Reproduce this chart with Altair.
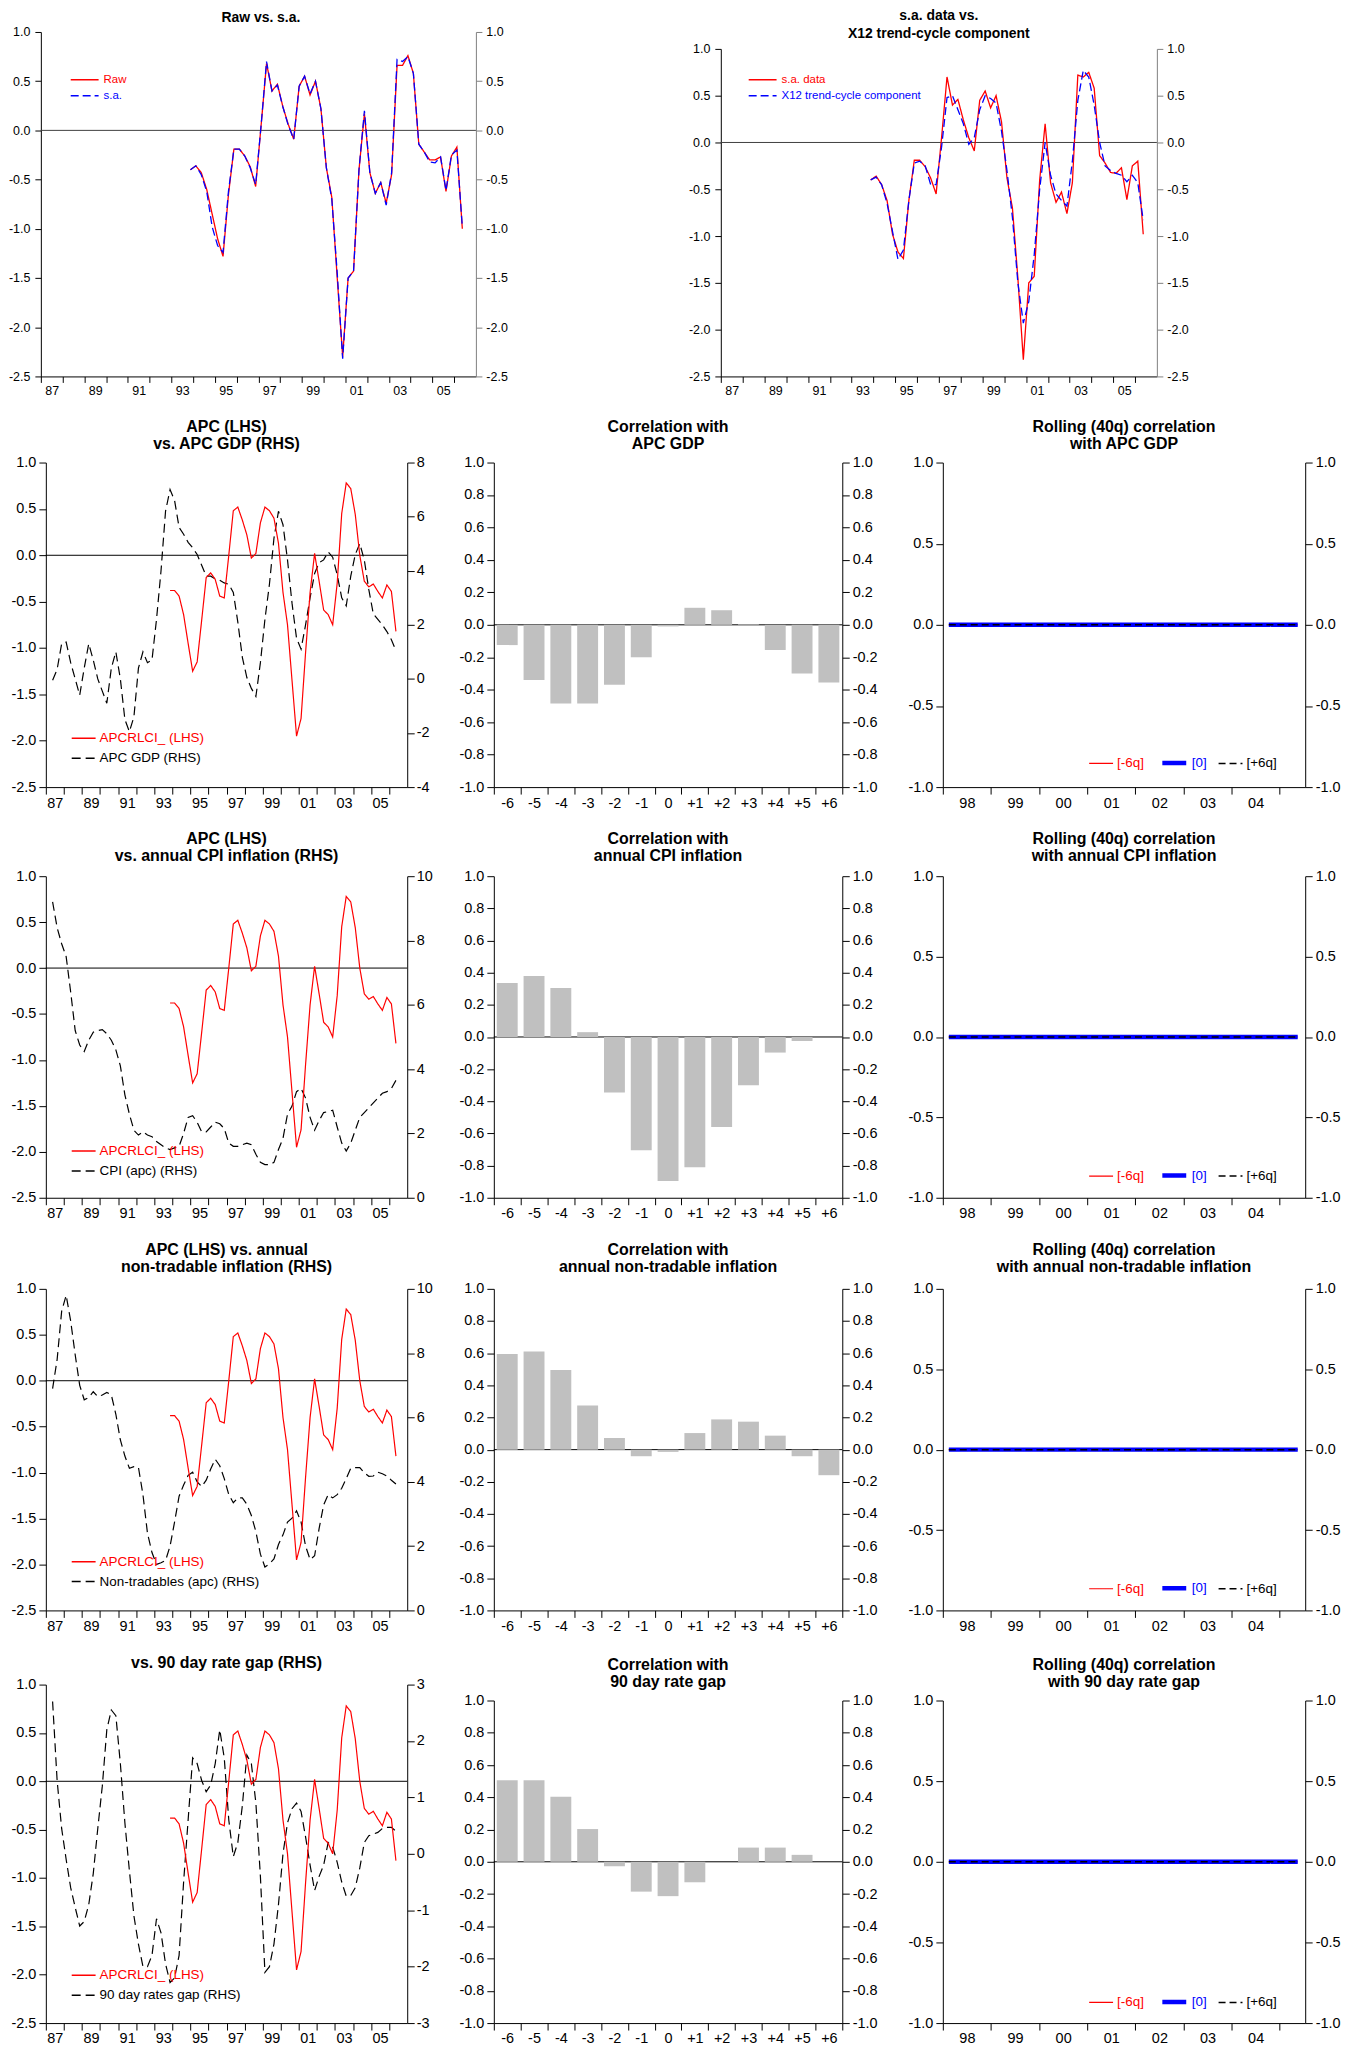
import altair as alt
import pandas as pd

FONT = "Liberation Sans"
RED = "#ff0000"
BLUE = "#0000ff"

# ---------------- data ----------------
# quarterly, 1993Q4 .. 2006Q2 (51 points)
RAW = [-0.40, -0.36, -0.43, -0.60, -0.85, -1.10, -1.28, -0.65, -0.19, -0.19,
       -0.26, -0.37, -0.57, 0.05, 0.68, 0.40, 0.47, 0.24, 0.06, -0.09,
       0.45, 0.55, 0.36, 0.50, 0.22, -0.38, -0.68, -1.50, -2.30, -1.50,
       -1.43, -0.40, 0.17, -0.43, -0.64, -0.53, -0.74, -0.45, 0.66, 0.66,
       0.76, 0.58, -0.14, -0.22, -0.30, -0.30, -0.27, -0.62, -0.26, -0.17,
       -1.00]
SA = [-0.40, -0.36, -0.45, -0.62, -0.98, -1.17, -1.24, -0.62, -0.19, -0.19,
      -0.26, -0.38, -0.55, 0.05, 0.70, 0.40, 0.46, 0.24, 0.05, -0.09,
      0.45, 0.55, 0.37, 0.50, 0.22, -0.38, -0.70, -1.45, -2.32, -1.50,
      -1.43, -0.40, 0.20, -0.43, -0.64, -0.53, -0.76, -0.43, 0.72, 0.70,
      0.75, 0.58, -0.14, -0.22, -0.32, -0.33, -0.27, -0.61, -0.25, -0.20,
      -0.98]
TREND = [-0.40, -0.37, -0.45, -0.65, -0.95, -1.25, -1.15, -0.62, -0.22, -0.20,
         -0.25, -0.45, -0.45, -0.05, 0.48, 0.50, 0.35, 0.20, -0.02, 0.05,
         0.35, 0.50, 0.47, 0.42, 0.12, -0.30, -0.80, -1.50, -1.93, -1.70,
         -1.20, -0.50, 0.00, -0.35, -0.55, -0.62, -0.68, -0.20, 0.45, 0.77,
         0.70, 0.40, 0.00, -0.25, -0.30, -0.33, -0.35, -0.42, -0.35, -0.43,
         -0.83]
APC = [-0.38, -0.38, -0.44, -0.64, -0.95, -1.25, -1.15, -0.70, -0.24, -0.19,
       -0.26, -0.44, -0.46, 0.00, 0.48, 0.52, 0.38, 0.22, -0.03, 0.02,
       0.35, 0.52, 0.48, 0.40, 0.13, -0.40, -0.75, -1.35, -1.95, -1.76,
       -1.05, -0.40, 0.02, -0.28, -0.59, -0.64, -0.75, -0.30, 0.45, 0.78,
       0.72, 0.44, 0.00, -0.28, -0.34, -0.31, -0.39, -0.46, -0.32, -0.39,
       -0.82]
# quarterly, 1987Q2 .. 2006Q2 (77 points)
APC_GDP = [-0.05, 0.35, 1.3, 1.36, 0.6, 0.0, -0.6, 0.4, 1.3, 0.7,
           0.0, -0.45, -0.9, 0.4, 1.0, 0.0, -1.5, -1.95, -1.4, 0.4,
           1.0, 0.6, 0.7, 2.2, 4.0, 6.2, 7.0, 6.6, 5.6, 5.35,
           5.05, 4.85, 4.6, 4.2, 3.8, 3.8, 3.7, 3.65, 3.55, 3.5,
           3.2, 2.1, 0.8, 0.05, -0.35, -0.65, 0.6, 2.2, 3.5, 5.2,
           6.2, 5.7, 4.4, 2.8, 1.5, 1.1, 2.0, 3.0, 3.9, 4.3,
           4.4, 4.7, 4.5, 3.85, 3.0, 2.7, 3.8, 4.6, 5.0, 4.4,
           3.3, 2.4, 2.2, 2.0, 1.75, 1.45, 1.05]
CPI_APC = [9.2, 8.4, 7.9, 7.5, 6.4, 5.2, 4.75, 4.55, 4.9, 5.15,
           5.2, 5.23, 5.1, 4.9, 4.6, 4.1, 3.2, 2.6, 2.1, 1.95,
           2.05, 1.95, 1.9, 1.75, 1.65, 1.55, 1.5, 1.55, 1.6, 2.0,
           2.5, 2.55, 2.35, 2.05, 2.05, 2.2, 2.35, 2.3, 2.15, 1.7,
           1.6, 1.6, 1.65, 1.7, 1.65, 1.35, 1.1, 1.03, 1.03, 1.1,
           1.5, 1.85, 2.6, 2.85, 3.3, 3.4, 3.1, 2.5, 2.1, 2.4,
           2.65, 2.68, 2.72, 2.2, 1.7, 1.45, 1.7, 2.1, 2.5, 2.65,
           2.8, 2.95, 3.1, 3.25, 3.3, 3.4, 3.65]
NONTRAD_APC = [6.9, 7.8, 9.3, 9.8, 9.0, 7.95, 7.0, 6.55, 6.62, 6.8,
               6.65, 6.7, 6.78, 6.7, 6.1, 5.3, 4.8, 4.42, 4.47, 4.45,
               3.6, 2.4, 1.8, 1.43, 1.48, 1.55, 2.0, 2.75, 3.55, 3.9,
               4.2, 4.3, 4.0, 3.85, 4.05, 4.4, 4.7, 4.5, 4.1, 3.6,
               3.35, 3.5, 3.5, 3.3, 2.95, 2.45, 1.75, 1.35, 1.45, 1.6,
               2.05, 2.35, 2.75, 2.87, 3.1, 2.75, 2.0, 1.58, 1.7, 2.55,
               3.28, 3.6, 3.5, 3.6, 3.8, 4.1, 4.42, 4.44, 4.44, 4.28,
               4.17, 4.18, 4.3, 4.25, 4.18, 4.05, 3.93]
RATE_GAP = [2.7, 1.3, 0.45, -0.1, -0.6, -0.95, -1.28, -1.2, -0.9, -0.35,
            0.45, 1.2, 2.2, 2.55, 2.45, 1.6, 0.55, -0.3, -1.1, -1.6,
            -2.0, -2.0, -1.8, -1.15, -1.4, -1.95, -2.28, -2.2, -1.8, -0.5,
            0.6, 1.7, 1.6, 1.3, 1.1, 1.22, 1.6, 2.2, 1.7, 0.6,
            -0.05, 0.2, 0.85, 1.75, 1.6, 0.9, -0.4, -2.1, -2.0, -1.6,
            -0.9, 0.0, 0.55, 0.8, 0.9, 0.75, 0.3, -0.2, -0.65, -0.4,
            -0.2, 0.2, 0.12, -0.15, -0.5, -0.75, -0.74, -0.6, -0.25, 0.2,
            0.32, 0.35, 0.38, 0.45, 0.47, 0.47, 0.40]
# rolling correlations, quarterly 1998Q1 .. 2005Q2 (30 points) - flat at zero
ROLL_M6 = [0.0, 0.0, 0.0, 0.0, 0.0, 0.0, 0.0, 0.0, 0.0, 0.0,
           0.0, 0.0, 0.0, 0.0, 0.0, 0.0, 0.0, 0.0, 0.0, 0.0,
           0.0, 0.0, 0.0, 0.0, 0.0, 0.0, 0.0, 0.0, 0.0, 0.0]
ROLL_0 = [0.0, 0.0, 0.0, 0.0, 0.0, 0.0, 0.0, 0.0, 0.0, 0.0,
          0.0, 0.0, 0.0, 0.0, 0.0, 0.0, 0.0, 0.0, 0.0, 0.0,
          0.0, 0.0, 0.0, 0.0, 0.0, 0.0, 0.0, 0.0, 0.0, 0.0]
ROLL_P6 = [0.0, 0.0, 0.0, 0.0, 0.0, 0.0, 0.0, 0.0, 0.0, 0.0,
           0.0, 0.0, 0.0, 0.0, 0.0, 0.0, 0.0, 0.0, 0.0, 0.0,
           0.0, 0.0, 0.0, 0.0, 0.0, 0.0, 0.0, 0.0, 0.0, 0.0]
# cross correlations at lags -6..+6
LAG_VALUES = [-6, -5, -4, -3, -2, -1, 0, 1, 2, 3, 4, 5, 6]
LAG_LABELS = ["-6", "-5", "-4", "-3", "-2", "-1", "0", "+1", "+2", "+3", "+4", "+5", "+6"]
CORR_GDP = [-0.125, -0.34, -0.485, -0.485, -0.37, -0.20, -0.01, 0.105, 0.09, 0.004, -0.155, -0.30, -0.355]
CORR_CPI = [0.335, 0.38, 0.305, 0.03, -0.345, -0.705, -0.895, -0.81, -0.56, -0.30, -0.097, -0.025, 0.0]
CORR_NONTRAD = [0.595, 0.61, 0.495, 0.275, 0.072, -0.041, -0.014, 0.103, 0.188, 0.174, 0.087, -0.041, -0.159]
CORR_GAP = [0.505, 0.505, 0.404, 0.203, -0.027, -0.185, -0.213, -0.127, 0.0, 0.088, 0.088, 0.043, 0.0]

# tick values
LHS_TICKS = [-2.5, -2.0, -1.5, -1.0, -0.5, 0.0, 0.5, 1.0]
CORR_TICKS = [-1.0, -0.8, -0.6, -0.4, -0.2, 0.0, 0.2, 0.4, 0.6, 0.8, 1.0]
ROLL_TICKS = [-1.0, -0.5, 0.0, 0.5, 1.0]
GDP_TICKS = [-4, -2, 0, 2, 4, 6, 8]
INFL_TICKS = [0, 2, 4, 6, 8, 10]
GAP_TICKS = [-3, -2, -1, 0, 1, 2, 3]
ODD_YEARS = [1987, 1989, 1991, 1993, 1995, 1997, 1999, 2001, 2003, 2005]
ROLL_YEARS = [1998, 1999, 2000, 2001, 2002, 2003, 2004]


def quarter_pos(year, q, n):
    out = []
    for i in range(n):
        k = q - 1 + i
        out.append(year + k // 4 + (k % 4) / 4 + 0.125)
    return out


T_SHORT = quarter_pos(1993, 4, len(APC))
T_LONG = quarter_pos(1987, 2, len(APC_GDP))
T_ROLL = quarter_pos(1998, 1, len(ROLL_0))
ZERO_DF = pd.DataFrame({"z": [0.0]})

YEAR_LABEL = "datum.value % 1 != 0 ? slice(toString(100 + floor(datum.value) % 100), 1) : ''"
HIDE_HALF_TICK = {"condition": {"test": "datum.value % 1 != 0", "value": 0}, "value": 1}
LAG_LABEL = "datum.value % 1 == 0 ? (datum.value > 0 ? '+' + datum.value : '' + datum.value) : ''"
HIDE_INT_TICK = {"condition": {"test": "datum.value % 1 == 0", "value": 0}, "value": 1}
HYPHEN_LABEL = "replace(datum.label, '\u2212', '-')"


def time_axis(first, last, label_years, fs, tick, extent):
    vals = [float(y) for y in range(first, last + 1)] + [y + 0.5 for y in label_years]
    return alt.Axis(orient="bottom", values=sorted(vals), labelExpr=YEAR_LABEL,
                    tickOpacity=HIDE_HALF_TICK, grid=False, title=None, tickSize=tick,
                    labelPadding=2, labelFont=FONT, labelFontSize=fs, labelColor="black",
                    domainColor="black", tickColor="black", labelOverlap=False,
                    labelFlush=False, minExtent=extent, maxExtent=extent)


def lag_axis(fs, tick, extent):
    vals = [-6.5 + 0.5 * k for k in range(27)]
    return alt.Axis(orient="bottom", values=vals, labelExpr=LAG_LABEL, tickOpacity=HIDE_INT_TICK,
                    grid=False, title=None, tickSize=tick, labelPadding=2, labelFont=FONT,
                    labelFontSize=fs, labelColor="black", domainColor="black", tickColor="black",
                    labelOverlap=False, labelFlush=False, minExtent=extent, maxExtent=extent)


def y_axis(orient, values, fmt, fs, extent, color="black", tick=7, pad=3, offset=0):
    kw = dict(orient=orient, values=values, format=fmt, labelExpr=HYPHEN_LABEL, grid=False,
              title=None, tickSize=tick, labelPadding=pad, labelFont=FONT, labelFontSize=fs,
              labelColor="black", domainColor=color, tickColor=color, labelOverlap=False,
              labelFlush=False, minExtent=extent, maxExtent=extent)
    if offset:
        kw["offset"] = offset
    return alt.Axis(**kw)


def title(lines, size, offset, lh=17):
    return alt.TitleParams(text=lines, fontSize=size, font=FONT, fontWeight="bold", color="black",
                           anchor="middle", frame="group", offset=offset, lineHeight=lh)


def line_legend(x, y, fs, size, color_expr, direction="vertical", row_pad=0, col_pad=8, lab_off=3,
                shape="stroke"):
    return alt.Legend(title=None, orient="none", legendX=x, legendY=y, direction=direction,
                      symbolType=shape, symbolSize=size, labelFont=FONT, labelFontSize=fs,
                      labelColor={"expr": color_expr}, labelOffset=lab_off, rowPadding=row_pad,
                      columnPadding=col_pad, padding=0, labelLimit=400)


def yscale(domain, rng=None):
    if rng:
        return alt.Scale(domain=domain, nice=False, zero=False, range=rng)
    return alt.Scale(domain=domain, nice=False, zero=False)


# ---------------- top row ----------------
TFS = 12.5
LONG_STROKE = "M-2,0H2"


def top_panel(ttl, names, s1, s2, width, height, xrng, yrng, left_off, leg_x, leg_y, color_expr):
    ys = yscale([-2.5, 1.0], yrng)
    left = y_axis("left", LHS_TICKS, ".1f", TFS, 33, tick=6, pad=5, offset=left_off)
    right = y_axis("right", LHS_TICKS, ".1f", TFS, 32, color="#808080", tick=6, pad=4)
    xa = time_axis(1987, 2006, ODD_YEARS, TFS, 6, 22)
    if xrng:
        xs = alt.Scale(domain=[1987, 2007], nice=False, zero=False, range=xrng)
    else:
        xs = alt.Scale(domain=[1987, 2007], nice=False, zero=False)
    x = alt.X("t:Q", scale=xs, axis=xa)
    df = pd.concat([pd.DataFrame({"t": T_SHORT, "v": s1, "series": names[0]}),
                    pd.DataFrame({"t": T_SHORT, "v": s2, "series": names[1]})])
    leg = line_legend(leg_x, leg_y, 11.5, 196, color_expr, row_pad=2, lab_off=11, shape=LONG_STROKE)
    color = alt.Color("series:N", scale=alt.Scale(domain=names, range=[RED, BLUE]), legend=leg)
    dash = alt.StrokeDash("series:N", scale=alt.Scale(domain=names, range=[[1, 0], [8, 4]]), legend=leg)
    rule = alt.Chart(ZERO_DF).mark_rule(color="#404040", strokeWidth=1).encode(
        x=alt.XDatum(1987, scale=xs, axis=xa), x2=alt.X2Datum(2007),
        y=alt.Y("z:Q", scale=ys, axis=left))
    base = alt.Chart(df).mark_line(strokeWidth=1.3).encode(
        x=x, y=alt.Y("v:Q", scale=ys, axis=left), color=color, strokeDash=dash)
    l1 = base.transform_filter(alt.datum.series == names[0])
    l2 = base.transform_filter(alt.datum.series == names[1])
    rside = alt.Chart(df).mark_point(opacity=0).encode(x=x, y=alt.Y("v:Q", scale=ys, axis=right))
    return alt.layer(alt.layer(rule, l1, l2), rside).resolve_scale(y="independent").properties(
        width=width, height=height, title=ttl)


panel_a = top_panel(title("Raw vs. s.a.", 14, 1), ["Raw", "s.a."], RAW, SA, 432, 346,
                    [-5, 432], None, 5, 31, 40,
                    "datum.label == 'Raw' ? '#ff0000' : '#0000ff'")
panel_b = top_panel(title(["s.a. data vs.", "X12 trend-cycle component"], 14, -9, lh=18),
                    ["s.a. data", "X12 trend-cycle component"], SA, TREND, 438, 346, None, [346, 17], 0,
                    34, 40, "datum.label == 's.a. data' ? '#ff0000' : '#0000ff'")


# ---------------- lower rows ----------------
FS = 14.5


def apc_panel(ttl, rhs, rhs_name, rhs_domain, rhs_ticks, height, leg_y):
    ys = yscale([-2.5, 1.0])
    ys2 = yscale(rhs_domain)
    left = y_axis("left", LHS_TICKS, ".1f", FS, 35)
    right = y_axis("right", rhs_ticks, "d", FS, 32, tick=7, pad=2)
    xa = time_axis(1987, 2006, ODD_YEARS, FS, 7, 24)
    x = alt.X("t:Q", scale=alt.Scale(domain=[1987, 2007], nice=False, zero=False), axis=xa)
    names = ["APCRLCI_ (LHS)", rhs_name]
    leg = line_legend(25, leg_y, 13.5, 576,
                      "indexof(datum.label, 'APCRLCI') >= 0 ? '#ff0000' : '#000000'", row_pad=0)
    color = alt.Color("series:N", scale=alt.Scale(domain=names, range=[RED, "#000000"]), legend=leg)
    dash = alt.StrokeDash("series:N", scale=alt.Scale(domain=names, range=[[1, 0], [9, 5]]), legend=leg)
    d1 = pd.DataFrame({"t": T_SHORT, "v": APC, "series": names[0]})
    d2 = pd.DataFrame({"t": T_LONG, "v": rhs, "series": names[1]})
    rule = alt.Chart(ZERO_DF).mark_rule(color="black", strokeWidth=1).encode(
        y=alt.Y("z:Q", scale=ys, axis=left))
    red = alt.Chart(d1).mark_line(strokeWidth=1.2).encode(
        x=x, y=alt.Y("v:Q", scale=ys, axis=left), color=color, strokeDash=dash)
    black = alt.Chart(d2).mark_line(strokeWidth=1.2).encode(
        x=x, y=alt.Y("v:Q", scale=ys2, axis=right), color=color, strokeDash=dash)
    return alt.layer(black, alt.layer(rule, red)).resolve_scale(y="independent").properties(
        width=363, height=height, title=ttl)


def corr_panel(ttl, corr, height, rng=None):
    ys = yscale([-1.0, 1.0], rng)
    left = y_axis("left", CORR_TICKS, ".1f", FS, 35)
    right = y_axis("right", CORR_TICKS, ".1f", FS, 40)
    xa = lag_axis(FS, 7, 24)
    xs = alt.Scale(domain=[-6.5, 6.5], nice=False, zero=False)
    df = pd.DataFrame({"lag": LAG_VALUES, "label": LAG_LABELS, "corr": corr})
    rule = alt.Chart(ZERO_DF).mark_rule(color="black", strokeWidth=1).encode(
        y=alt.Y("z:Q", scale=ys, axis=left))
    bars = alt.Chart(df).transform_calculate(lo="datum.lag - 0.39", hi="datum.lag + 0.39").mark_bar(
        color="#c0c0c0").encode(
        x=alt.X("lo:Q", scale=xs, axis=xa), x2="hi:Q",
        y=alt.Y("corr:Q", scale=ys, axis=left), y2=alt.datum(0))
    rside = alt.Chart(df).mark_point(opacity=0).encode(
        x=alt.X("lag:Q", scale=xs, axis=xa), y=alt.Y("corr:Q", scale=ys, axis=right))
    return alt.layer(alt.layer(rule, bars), rside).resolve_scale(y="independent").properties(
        width=350, height=height, title=ttl)


def roll_panel(ttl, height, leg_y, rng=None):
    ys = yscale([-1.0, 1.0], rng)
    left = y_axis("left", ROLL_TICKS, ".1f", FS, 41)
    right = y_axis("right", ROLL_TICKS, ".1f", FS, 40)
    xa = time_axis(1998, 2005, ROLL_YEARS, FS, 7, 24)
    x = alt.X("t:Q", scale=alt.Scale(domain=[1998, 2005.53], nice=False, zero=False), axis=xa)
    names = ["[-6q]", "[0]", "[+6q]"]
    df = pd.concat([pd.DataFrame({"t": T_ROLL, "v": ROLL_M6, "lag": names[0]}),
                    pd.DataFrame({"t": T_ROLL, "v": ROLL_0, "lag": names[1]}),
                    pd.DataFrame({"t": T_ROLL, "v": ROLL_P6, "lag": names[2]})])
    leg = line_legend(146, leg_y, 13.5, 576,
                      "datum.label == '[-6q]' ? '#ff0000' : (datum.label == '[0]' ? '#0000ff' : '#000000')",
                      direction="horizontal", col_pad=8)
    color = alt.Color("lag:N", scale=alt.Scale(domain=names, range=[RED, BLUE, "#000000"]), legend=leg)
    dash = alt.StrokeDash("lag:N", scale=alt.Scale(domain=names, range=[[1, 0], [1, 0], [7, 4]]), legend=leg)
    sw = alt.StrokeWidth("lag:N", scale=alt.Scale(type="ordinal", domain=names, range=[1.2, 4.5, 1.5]),
                         legend=leg)
    base = alt.Chart(df).mark_line().encode(
        x=x, y=alt.Y("v:Q", scale=ys, axis=left), color=color, strokeDash=dash, strokeWidth=sw)
    layers = [base.transform_filter(alt.datum.lag == n) for n in names]
    rside = alt.Chart(df).mark_point(opacity=0).encode(x=x, y=alt.Y("v:Q", scale=ys, axis=right))
    return alt.layer(alt.layer(*layers), rside).resolve_scale(y="independent").properties(
        width=364, height=height, title=ttl)


T2 = 16
row2 = [
    apc_panel(title(["APC (LHS)", "vs. APC GDP (RHS)"], T2, 3), APC_GDP, "APC GDP (RHS)",
              [-4, 8], GDP_TICKS, 326, 264),
    corr_panel(title(["Correlation with", "APC GDP"], T2, 3), CORR_GDP, 326),
    roll_panel(title(["Rolling (40q) correlation", "with APC GDP"], T2, 3), 326, 287),
]
row3 = [
    apc_panel(title(["APC (LHS)", "vs. annual CPI inflation (RHS)"], T2, 4), CPI_APC, "CPI (apc) (RHS)",
              [0, 10], INFL_TICKS, 323, 263),
    corr_panel(title(["Correlation with", "annual CPI inflation"], T2, 4), CORR_CPI, 323),
    roll_panel(title(["Rolling (40q) correlation", "with annual CPI inflation"], T2, 4), 323, 286),
]
row4 = [
    apc_panel(title(["APC (LHS) vs. annual", "non-tradable inflation (RHS)"], T2, 6), NONTRAD_APC,
              "Non-tradables (apc) (RHS)", [0, 10], INFL_TICKS, 323, 261),
    corr_panel(title(["Correlation with", "annual non-tradable inflation"], T2, 6), CORR_NONTRAD, 323),
    roll_panel(title(["Rolling (40q) correlation", "with annual non-tradable inflation"], T2, 6), 323, 286),
]
row5 = [
    apc_panel(title("vs. 90 day rate gap (RHS)", T2, 6), RATE_GAP, "90 day rates gap (RHS)",
              [-3, 3], GAP_TICKS, 340, 279),
    corr_panel(title(["Correlation with", "90 day rate gap"], T2, -5.5), CORR_GAP, 340, [340, 16]),
    roll_panel(title(["Rolling (40q) correlation", "with 90 day rate gap"], T2, -5.5), 340, 304,
               [340, 16]),
]

RES = dict(x="independent", y="independent", color="independent", strokeDash="independent",
           strokeWidth="independent")


def hrow(panels, spacing):
    return alt.hconcat(*panels, spacing=spacing).resolve_scale(**RES).resolve_legend(
        color="independent", strokeDash="independent", strokeWidth="independent")


chart = alt.vconcat(
    hrow([panel_a, panel_b], 181),
    hrow(row2, 20), hrow(row3, 20), hrow(row4, 20), hrow(row5, 20),
    spacing=20.5,
).resolve_scale(**RES).resolve_legend(
    color="independent", strokeDash="independent", strokeWidth="independent"
).properties(
    padding={"left": 0, "top": -3.5, "right": 5, "bottom": 5}
).configure(font=FONT).configure_view(stroke=None, strokeWidth=0)

chart.save("out.html", embed_options={"renderer": "svg", "actions": False})
